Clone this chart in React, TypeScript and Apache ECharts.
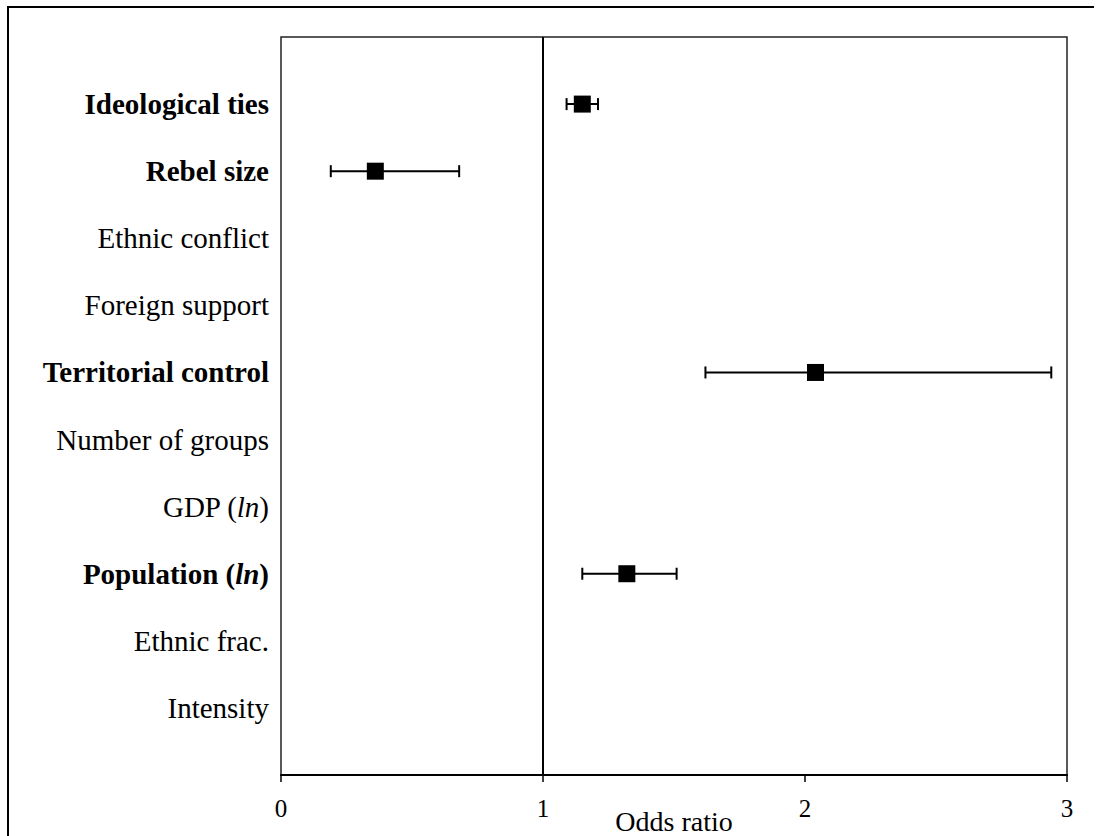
import React, { useEffect, useRef } from "react";
import * as echarts from "echarts";

// Categories from top to bottom
const categories = [
  "Ideological ties",
  "Rebel size",
  "Ethnic conflict",
  "Foreign support",
  "Territorial control",
  "Number of groups",
  "GDP (ln)",
  "Population (ln)",
  "Ethnic frac.",
  "Intensity",
];
// Rich-text labels (bold = significant, italic ln)
const categoryLabels = [
  "{b|Ideological ties}",
  "{b|Rebel size}",
  "{r|Ethnic conflict}",
  "{r|Foreign support}",
  "{b|Territorial control}",
  "{r|Number of groups}",
  "{r|GDP (}{i|ln}{r|)}",
  "{b|Population (}{bi|ln}{b|)}",
  "{r|Ethnic frac.}",
  "{r|Intensity}",
];
const oddsRatio = [1.15, 0.36, null, null, 2.04, null, null, 1.32, null, null];
const ciLow = [1.09, 0.19, null, null, 1.62, null, null, 1.15, null, null];
const ciHigh = [1.21, 0.68, null, null, 2.94, null, null, 1.51, null, null];
const xTicks = [0, 1, 2, 3];

const FONT = "'Liberation Serif', 'Times New Roman', serif";
const LABEL_SIZE = 29;

export default function App() {
  const ref = useRef<HTMLDivElement>(null);
  useEffect(() => {
    if (!ref.current) return;
    const chart = echarts.init(ref.current, null, { renderer: "svg" });
    const n = categories.length;
    const yPos = (i: number) => n - i; // top = 10, bottom = 1
    const labelMap: Record<number, string> = {};
    categories.forEach((_, i) => (labelMap[yPos(i)] = categoryLabels[i]));

    const errData: number[][] = [];
    const ptData: number[][] = [];
    categories.forEach((_, i) => {
      if (oddsRatio[i] != null) {
        errData.push([ciLow[i] as number, ciHigh[i] as number, yPos(i)]);
        ptData.push([oddsRatio[i] as number, yPos(i)]);
      }
    });

    chart.setOption({
      animation: false,
      backgroundColor: "#fff",
      graphic: [
        {
          type: "polyline",
          shape: { points: [[1094, 7], [8, 7], [8, 870]] },
          style: { fill: "none", stroke: "#000", lineWidth: 2 },
          silent: true,
        },
      ],
      grid: {
        left: 281,
        right: 33,
        top: 37,
        bottom: 61,
        containLabel: false,
        outerBoundsMode: "none",
        show: true,
        borderColor: "#222",
        borderWidth: 1.5,
        backgroundColor: "transparent",
      },
      xAxis: {
        type: "value",
        min: xTicks[0],
        max: xTicks[xTicks.length - 1],
        interval: 1,
        name: "Odds ratio",
        nameLocation: "middle",
        nameGap: 32,
        nameMoveOverlap: false,
        nameTextStyle: { fontFamily: FONT, fontSize: 28, color: "#000" },
        axisLine: { show: true, lineStyle: { color: "#000", width: 2 } },
        axisTick: { show: true, inside: false, length: 7, lineStyle: { color: "#000", width: 1.5 } },
        axisLabel: { fontFamily: FONT, fontSize: 25, color: "#000", margin: 21 },
        splitLine: { show: false },
      },
      yAxis: {
        type: "value",
        min: 0,
        max: 11,
        interval: 1,
        axisLine: { show: false },
        axisTick: { show: false },
        splitLine: { show: false },
        axisLabel: {
          margin: 12,
          formatter: (v: number) => labelMap[v] || "",
          rich: {
            r: { fontFamily: FONT, fontSize: LABEL_SIZE, color: "#000" },
            b: { fontFamily: FONT, fontSize: LABEL_SIZE, color: "#000", fontWeight: "bold" },
            i: { fontFamily: FONT, fontSize: LABEL_SIZE, color: "#000", fontStyle: "italic" },
            bi: { fontFamily: FONT, fontSize: LABEL_SIZE, color: "#000", fontWeight: "bold", fontStyle: "italic" },
          },
        },
      },
      series: [
        {
          type: "custom",
          data: errData,
          encode: { x: [0, 1], y: 2 },
          renderItem: (params: any, api: any) => {
            const p1 = api.coord([api.value(0), api.value(2)]);
            const p2 = api.coord([api.value(1), api.value(2)]);
            const h = 6;
            const st = { stroke: "#000", lineWidth: 2 };
            return {
              type: "group",
              children: [
                { type: "line", shape: { x1: p1[0], y1: p1[1], x2: p2[0], y2: p2[1] }, style: st },
                { type: "line", shape: { x1: p1[0], y1: p1[1] - h, x2: p1[0], y2: p1[1] + h }, style: st },
                { type: "line", shape: { x1: p2[0], y1: p2[1] - h, x2: p2[0], y2: p2[1] + h }, style: st },
              ],
            };
          },
          z: 2,
        },
        {
          type: "scatter",
          data: ptData,
          symbol: "rect",
          symbolSize: 17,
          itemStyle: { color: "#000", opacity: 1 },
          z: 3,
          markLine: {
            silent: true,
            symbol: "none",
            label: { show: false },
            lineStyle: { color: "#000", width: 2, type: "solid" },
            data: [{ xAxis: 1 }],
          },
        },
      ],
    });
    return () => chart.dispose();
  }, []);
  return (
    <div
      ref={ref}
      style={{ position: "absolute", left: 0, top: 0, width: 1100, height: 836 }}
    />
  );
}
